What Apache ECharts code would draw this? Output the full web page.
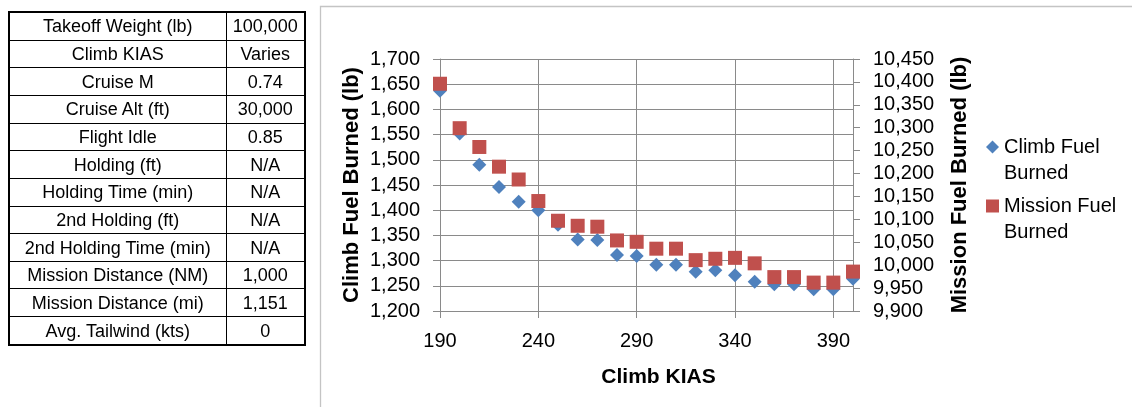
<!DOCTYPE html>
<html>
<head>
<meta charset="utf-8">
<script src="https://cdn.jsdelivr.net/npm/echarts@6/dist/echarts.min.js"></script>
<style>
html,body{margin:0;padding:0;background:#fff;}
#chart{position:absolute;left:0;top:0;width:1132px;height:407px;}
#tbl{position:absolute;left:8px;top:11px;width:296px;height:335px;border-collapse:collapse;border:2px solid #000;
  font-family:"Liberation Sans",Arial,sans-serif;font-size:18px;color:#000;table-layout:fixed;}
#tbl td{border:1px solid #000;text-align:center;padding:0;white-space:nowrap;line-height:18px;}
</style>
</head>
<body>
<div id="chart"></div>
<table id="tbl"><colgroup><col style="width:217px"><col style="width:79px"></colgroup><tbody id="tb"></tbody></table>
<script>
// ---- data ----
const tableLabels = ['Takeoff Weight (lb)','Climb KIAS','Cruise M','Cruise Alt (ft)','Flight Idle','Holding (ft)','Holding Time (min)','2nd Holding (ft)','2nd Holding Time (min)','Mission Distance (NM)','Mission Distance (mi)','Avg. Tailwind (kts)'];
const tableValues = ['100,000','Varies','0.74','30,000','0.85','N/A','N/A','N/A','N/A','1,000','1,151','0'];

const climbKIAS = [190,200,210,220,230,240,250,260,270,280,290,300,310,320,330,340,350,360,370,380,390,400];
const climbFuel = [1637,1552,1490,1446,1417,1400,1371,1342,1341,1311,1309,1292,1292,1278,1281,1271,1258,1253,1253,1243,1243,1264];
const missionFuel = [10396,10299,10258,10215,10187,10140,10097,10086,10084,10054,10051,10036,10036,10011,10014,10016,10004,9974,9974,9962,9962,9986];

const seriesNames = ['Climb Fuel Burned','Mission Fuel Burned'];
const legendLabels = [['Climb Fuel','Burned'],['Mission Fuel','Burned']];
const xTitle = 'Climb KIAS';
const yLeftTitle = 'Climb Fuel Burned (lb)';
const yRightTitle = 'Mission Fuel Burned (lb)';

// ---- table ----
const tb = document.getElementById('tb');
tableLabels.forEach((l,i)=>{
  const tr = document.createElement('tr');
  const a = document.createElement('td'); a.textContent = l;
  const b = document.createElement('td'); b.textContent = tableValues[i];
  tr.appendChild(a); tr.appendChild(b); tb.appendChild(tr);
});

// ---- chart ----
const FONT = '"Liberation Sans", Arial, sans-serif';
const gridColor = '#8a8a8a';
const fmt = v => Math.round(v).toLocaleString('en-US');
const chart = echarts.init(document.getElementById('chart'), null, {renderer:'canvas'});
chart.setOption({
  animation:false,
  textStyle:{fontFamily:FONT},
  graphic:[{type:'rect', shape:{x:320.5, y:6.5, width:900, height:500}, style:{fill:'none', stroke:'#c4c4c4', lineWidth:1.3}, silent:true, z:-1}],
  grid:{left:440, right:279, top:59, bottom:96},
  legend:{
    orient:'vertical', left:986, top:108, padding:0, itemWidth:13, itemHeight:13, itemGap:-19,
    data:[{name:seriesNames[0], icon:'diamond'},{name:seriesNames[1], icon:'rect'}],
    formatter: n => ' \n' + legendLabels[seriesNames.indexOf(n)].join('\n'),
    textStyle:{fontFamily:FONT, fontSize:20, lineHeight:26, color:'#000'}
  },
  xAxis:{
    type:'value', min:190, max:400, interval:50,
    name:xTitle, nameLocation:'middle', nameGap:56,
    nameTextStyle:{fontFamily:FONT, fontSize:21, fontWeight:'bold', color:'#000', padding:[0,0,0,24]},
    axisLine:{show:true, lineStyle:{color:gridColor, width:1}},
    axisTick:{show:true, length:7, lineStyle:{color:gridColor}},
    axisLabel:{fontFamily:FONT, fontSize:20, color:'#000', margin:20, showMaxLabel:false},
    splitLine:{show:true, lineStyle:{color:gridColor, width:1}}
  },
  yAxis:[{
    type:'value', min:1200, max:1700, interval:50, position:'left',
    name:yLeftTitle, nameLocation:'middle', nameGap:77, nameRotate:90,
    nameTextStyle:{fontFamily:FONT, fontSize:22, fontWeight:'bold', color:'#000'},
    axisLine:{show:true, lineStyle:{color:gridColor, width:1}},
    axisTick:{show:true, length:7, lineStyle:{color:gridColor}},
    axisLabel:{fontFamily:FONT, fontSize:20, color:'#000', margin:20, formatter:fmt},
    splitLine:{show:true, lineStyle:{color:gridColor, width:1}}
  },{
    type:'value', min:9900, max:10450, interval:50, position:'right',
    name:yRightTitle, nameLocation:'middle', nameGap:96, nameRotate:90,
    nameTextStyle:{fontFamily:FONT, fontSize:22, fontWeight:'bold', color:'#000'},
    axisLine:{show:true, lineStyle:{color:gridColor, width:1}},
    axisTick:{show:true, length:7, lineStyle:{color:gridColor}},
    axisLabel:{fontFamily:FONT, fontSize:20, color:'#000', margin:20, formatter:fmt},
    splitLine:{show:false}
  }],
  series:[{
    name:seriesNames[0], type:'scatter', symbol:'diamond', symbolSize:14,
    itemStyle:{color:'#4F81BD', opacity:1}, z:2,
    data: climbKIAS.map((x,i)=>[x, climbFuel[i]])
  },{
    name:seriesNames[1], type:'scatter', symbol:'rect', symbolSize:14, yAxisIndex:1,
    itemStyle:{color:'#C0504D', opacity:1}, z:3,
    data: climbKIAS.map((x,i)=>[x, missionFuel[i]])
  }]
});
</script>
</body>
</html>
